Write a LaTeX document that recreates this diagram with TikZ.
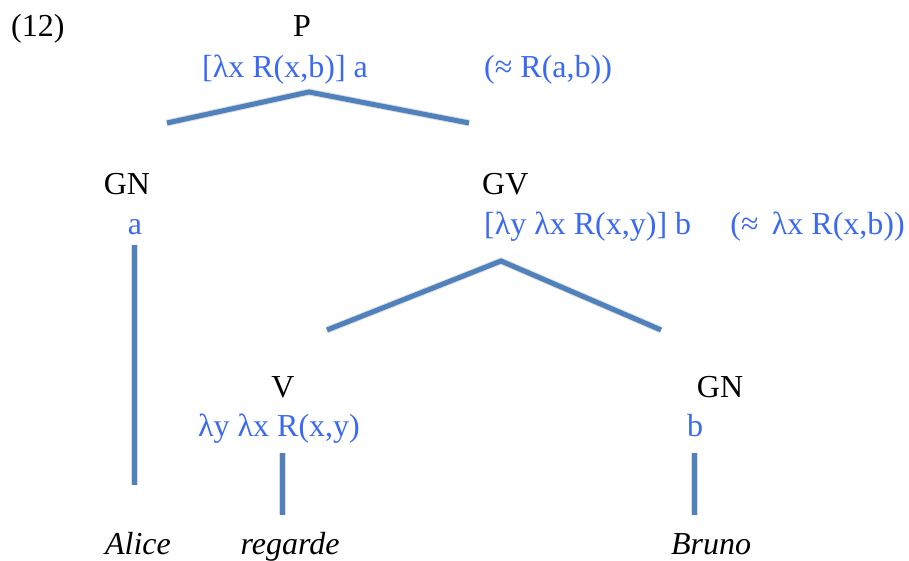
\documentclass[tikz,border=0pt]{standalone}
\usepackage{fontspec}
\setmainfont{Liberation Serif}
\newfontfamily\tnr{Liberation Serif}
\definecolor{linkblue}{RGB}{79,129,189}
\definecolor{semblue}{RGB}{59,106,240}
\begin{document}
\begin{tikzpicture}[x=1pt,y=-1pt,
  lbl/.style={inner sep=0pt,font=\tnr\fontsize{32}{36}\selectfont},
  cat/.style={lbl,text=black},
  sem/.style={lbl,text=semblue},
  word/.style={lbl,text=black,font=\tnr\fontsize{32}{36}\selectfont\itshape},
  branch/.style={draw=linkblue,line width=5pt,line join=miter},
  shade/.style={draw=black,opacity=0.13,line width=7pt}]
\useasboundingbox (0,0) rectangle (909,561);
% labels
\node[cat,anchor=base west] (num) at (11,37) {(12)};
\node[cat,anchor=base] (P) at (302,37) {P};
\node[sem,anchor=base west] (Psem) at (202,78) {[λx R(x,b)] a};
\node[sem,anchor=base west] (Pnote) at (484,78) {(≈ R(a,b))};
\node[cat,anchor=base] (GN1) at (127,195) {GN};
\node[sem,anchor=base] (GN1sem) at (135,234) {a};
\node[cat,anchor=base west] (GV) at (482,195) {GV};
\node[sem,anchor=base west] (GVsem) at (484,234) {[λy λx R(x,y)] b};
\node[sem,anchor=base east] (GVnote) at (905,234) {(≈ \,λx R(x,b))};
\node[cat,anchor=base] (V) at (283,397) {V};
\node[sem,anchor=base west] (Vsem) at (198,436) {λy λx R(x,y)};
\node[cat,anchor=base] (GN2) at (720,397) {GN};
\node[sem,anchor=base] (GN2sem) at (695,436) {b};
\node[word,anchor=base] (alice) at (138,554) {Alice};
\node[word,anchor=base] (regarde) at (290,554) {regarde};
\node[word,anchor=base] (bruno) at (711,554) {Bruno};
% branch end points
\coordinate (Pl) at (167,123);
\coordinate (Pt) at (309,92);
\coordinate (Pr) at (469,123);
\coordinate (GVl) at (327,330);
\coordinate (GVt) at (501,261);
\coordinate (GVr) at (661,330);
\coordinate (GNa) at (134,245);
\coordinate (GNb) at (134,485);
\coordinate (Va) at (282,453);
\coordinate (Vb) at (282,515);
\coordinate (Ba) at (694,453);
\coordinate (Bb) at (694,515);
% shadows
\begin{scope}[shift={(2,4)}]
\draw[shade] (Pl) -- (Pt) -- (Pr);
\draw[shade] (GVl) -- (GVt) -- (GVr);
\draw[shade] (GNa) -- (GNb);
\draw[shade] (Va) -- (Vb);
\draw[shade] (Ba) -- (Bb);
\end{scope}
% branches
\draw[branch] (Pl) -- (Pt) -- (Pr);
\draw[branch] (GVl) -- (GVt) -- (GVr);
\draw[branch] (GNa) -- (GNb);
\draw[branch] (Va) -- (Vb);
\draw[branch] (Ba) -- (Bb);
\end{tikzpicture}
\end{document}
